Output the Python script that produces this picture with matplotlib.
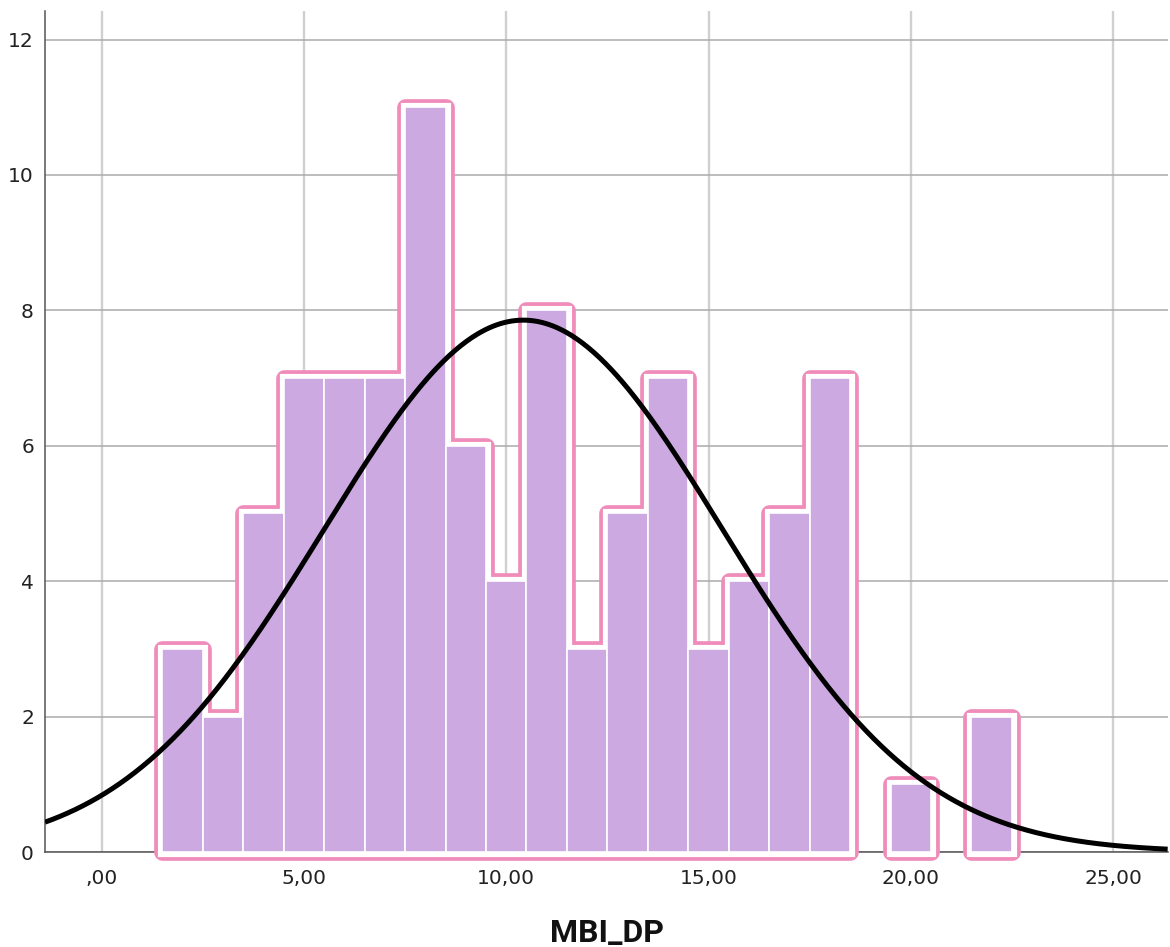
import numpy as np
import matplotlib
matplotlib.use("Agg")
import matplotlib.pyplot as plt
from matplotlib.patches import Polygon

# ---- data ----
bin_centers = [2, 3, 4, 5, 6, 7, 8, 9, 10, 11, 12, 13, 14, 15, 16, 17, 18, 19, 20, 21, 22]
counts      = [3, 2, 5, 7, 7, 7, 11, 6, 4, 8, 3, 5, 7, 3, 4, 5, 7, 0, 1, 0, 2]
bin_width = 1.0
x_ticks = [0, 5, 10, 15, 20, 25]
x_tick_labels = [",00", "5,00", "10,00", "15,00", "20,00", "25,00"]
y_ticks = [0, 2, 4, 6, 8, 10, 12]
x_label = "MBI_DP"

bar_color = "#CDA9E2"
pink = "#F08CBA"

fig = plt.figure(figsize=(11.7, 9.47), dpi=100)
ax = fig.add_axes([0.0385, 0.1003, 0.9595, 0.888])

xmin, xmax = -1.40, 26.35
ymin, ymax = 0, 12.42
ax.set_xlim(xmin, xmax)
ax.set_ylim(ymin, ymax)

centers = np.array(bin_centers, dtype=float)
cnt = np.array(counts, dtype=float)

# grid
for xt in x_ticks:
    ax.axvline(xt, color="#d0d0d0", lw=1.7, zorder=0.5)
for yt in y_ticks:
    ax.axhline(yt, color="#ababab", lw=1.1, zorder=0.6)

# pink rounded outlines around contiguous groups of non-empty bins
groups = []
cur = []
for c, n in zip(centers, cnt):
    if n > 0:
        cur.append((c, n))
    else:
        if cur:
            groups.append(cur)
        cur = []
if cur:
    groups.append(cur)

for g in groups:
    pts = []
    for c, n in g:
        pts += [(c - bin_width / 2, n), (c + bin_width / 2, n)]
    pts += [(g[-1][0] + bin_width / 2, 0), (g[0][0] - bin_width / 2, 0)]
    outer = Polygon(pts, closed=True, fill=False, edgecolor=pink, lw=12,
                    joinstyle="round", zorder=2, clip_on=False)
    inner = Polygon(pts, closed=True, fill=False, edgecolor="white", lw=6.6,
                    joinstyle="miter", zorder=2.1, clip_on=False)
    ax.add_patch(outer)
    ax.add_patch(inner)

# bars
ax.bar(centers[cnt > 0], cnt[cnt > 0], width=bin_width, color=bar_color,
       edgecolor="white", linewidth=1.2, zorder=3)

# normal curve
N = cnt.sum()
mean = (centers * cnt).sum() / N
sd = np.sqrt(((centers - mean) ** 2 * cnt).sum() / (N - 1))
xx = np.linspace(xmin, xmax, 600)
yy = N * bin_width / (sd * np.sqrt(2 * np.pi)) * np.exp(-0.5 * ((xx - mean) / sd) ** 2)
ax.plot(xx, yy, color="black", lw=3.6, zorder=5, solid_capstyle="butt")

# axes styling
for s in ["top", "right"]:
    ax.spines[s].set_visible(False)
for s in ["left", "bottom"]:
    ax.spines[s].set_color("#555555")
    ax.spines[s].set_linewidth(1.1)
    ax.spines[s].set_zorder(1)

ax.set_xticks(x_ticks)
ax.set_xticklabels(x_tick_labels)
ax.set_yticks(y_ticks)
ax.set_yticklabels([str(v) for v in y_ticks])
ax.tick_params(axis="both", length=0, labelsize=14.5, labelcolor="#222222")
ax.tick_params(axis="y", pad=8)
ax.tick_params(axis="x", pad=12)

fig.text(0.5185, 0.0058, x_label, ha="center", va="baseline", fontsize=23,
         fontweight="bold", family=["Roboto", "DejaVu Sans"], color="#111111")

fig.savefig("out.png", dpi=100)
